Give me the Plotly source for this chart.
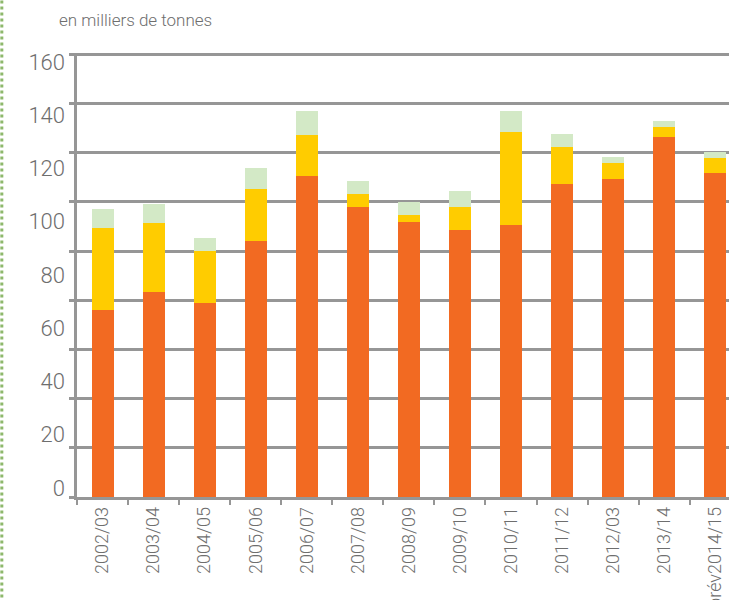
import numpy as np
import plotly.graph_objects as go

categories = ["2002/03", "2003/04", "2004/05", "2005/06", "2006/07", "2007/08",
              "2008/09", "2009/10", "2010/11", "2011/12", "2012/03", "2013/14",
              "prév2014/15"]
orange_vals = [67.5, 74.1, 70.2, 92.6, 116.0, 104.9, 99.3, 96.5, 98.3, 113.1, 114.9, 130.1, 117.1]
yellow_vals = [29.8, 25.0, 18.7, 18.7, 14.8, 4.7, 2.6, 8.3, 33.7, 13.4, 5.8, 3.6, 5.4]
green_vals = [6.7, 6.8, 4.8, 7.7, 8.7, 4.6, 4.7, 5.8, 7.5, 4.7, 2.2, 2.2, 2.2]
y_tick_labels = [0, 20, 40, 60, 80, 100, 120, 140, 160]
title_text = "en milliers de tonnes"

FONT = "Roboto, 'Open Sans', sans-serif"
GRID = "#969696"
TXT = "#6e6e6e"

fig = go.Figure()
edge = dict(width=0)
fig.add_trace(go.Bar(x=categories, y=orange_vals, marker=dict(color="#F26A22", line=edge), showlegend=False))
fig.add_trace(go.Bar(x=categories, y=yellow_vals, marker=dict(color="#FFCC00", line=edge), showlegend=False))
fig.add_trace(go.Bar(x=categories, y=green_vals, marker=dict(color="#D3E9C6", line=edge), showlegend=False))
# carrier for the labelled value axis (invisible)
fig.add_trace(go.Scatter(x=[categories[0]] * len(y_tick_labels), y=y_tick_labels, yaxis="y2",
                         mode="markers", marker=dict(opacity=0), hoverinfo="skip", showlegend=False))

fig.update_layout(
    width=729, height=600,
    margin=dict(l=77, r=0, t=53, b=103, autoexpand=False),
    barmode="stack", bargap=0.57,
    plot_bgcolor="white", paper_bgcolor="white",
    xaxis=dict(
        type="category", range=[-0.5, 12.27],
        showline=True, linecolor=GRID, linewidth=2.5,
        ticks="outside", tickson="boundaries", ticklen=5, tickwidth=2, tickcolor=GRID,
        tickangle=-90, tickfont=dict(family=FONT, size=18, color=TXT, weight=300),
        showgrid=False, automargin=False,
    ),
    yaxis=dict(
        range=[0, 160.47], tickmode="array", tickvals=list(np.linspace(0, 160, 10)),
        showticklabels=False, showgrid=True, gridcolor=GRID, gridwidth=2.5,
        zeroline=False, showline=True, linecolor=GRID, linewidth=2.5,
        ticks="outside", ticklen=5, tickwidth=2.5, tickcolor=GRID, automargin=False,
    ),
    yaxis2=dict(
        overlaying="y", side="left", anchor="x", range=[-3.38, 163.38],
        tickmode="array", tickvals=y_tick_labels, ticktext=[str(v) for v in y_tick_labels],
        showgrid=False, zeroline=False, showline=False, ticks="",
        ticklabelstandoff=11, tickfont=dict(family=FONT, size=22, color=TXT, weight=300),
        automargin=False,
    ),
    annotations=[dict(
        text=title_text, xref="paper", yref="paper", x=-0.031, y=1.074,
        xanchor="left", yanchor="middle", showarrow=False,
        font=dict(family=FONT, size=17, color=TXT, weight=300),
    )],
    shapes=[dict(
        type="line", xref="paper", yref="paper", x0=-0.1153, x1=-0.1153, y0=-0.24, y1=1.13,
        line=dict(color="#8DB86B", width=3, dash="dot"),
    )],
)

fig.write_html("out.html", config={"displayModeBar": False},
               post_script="document.body.style.margin='0';")
